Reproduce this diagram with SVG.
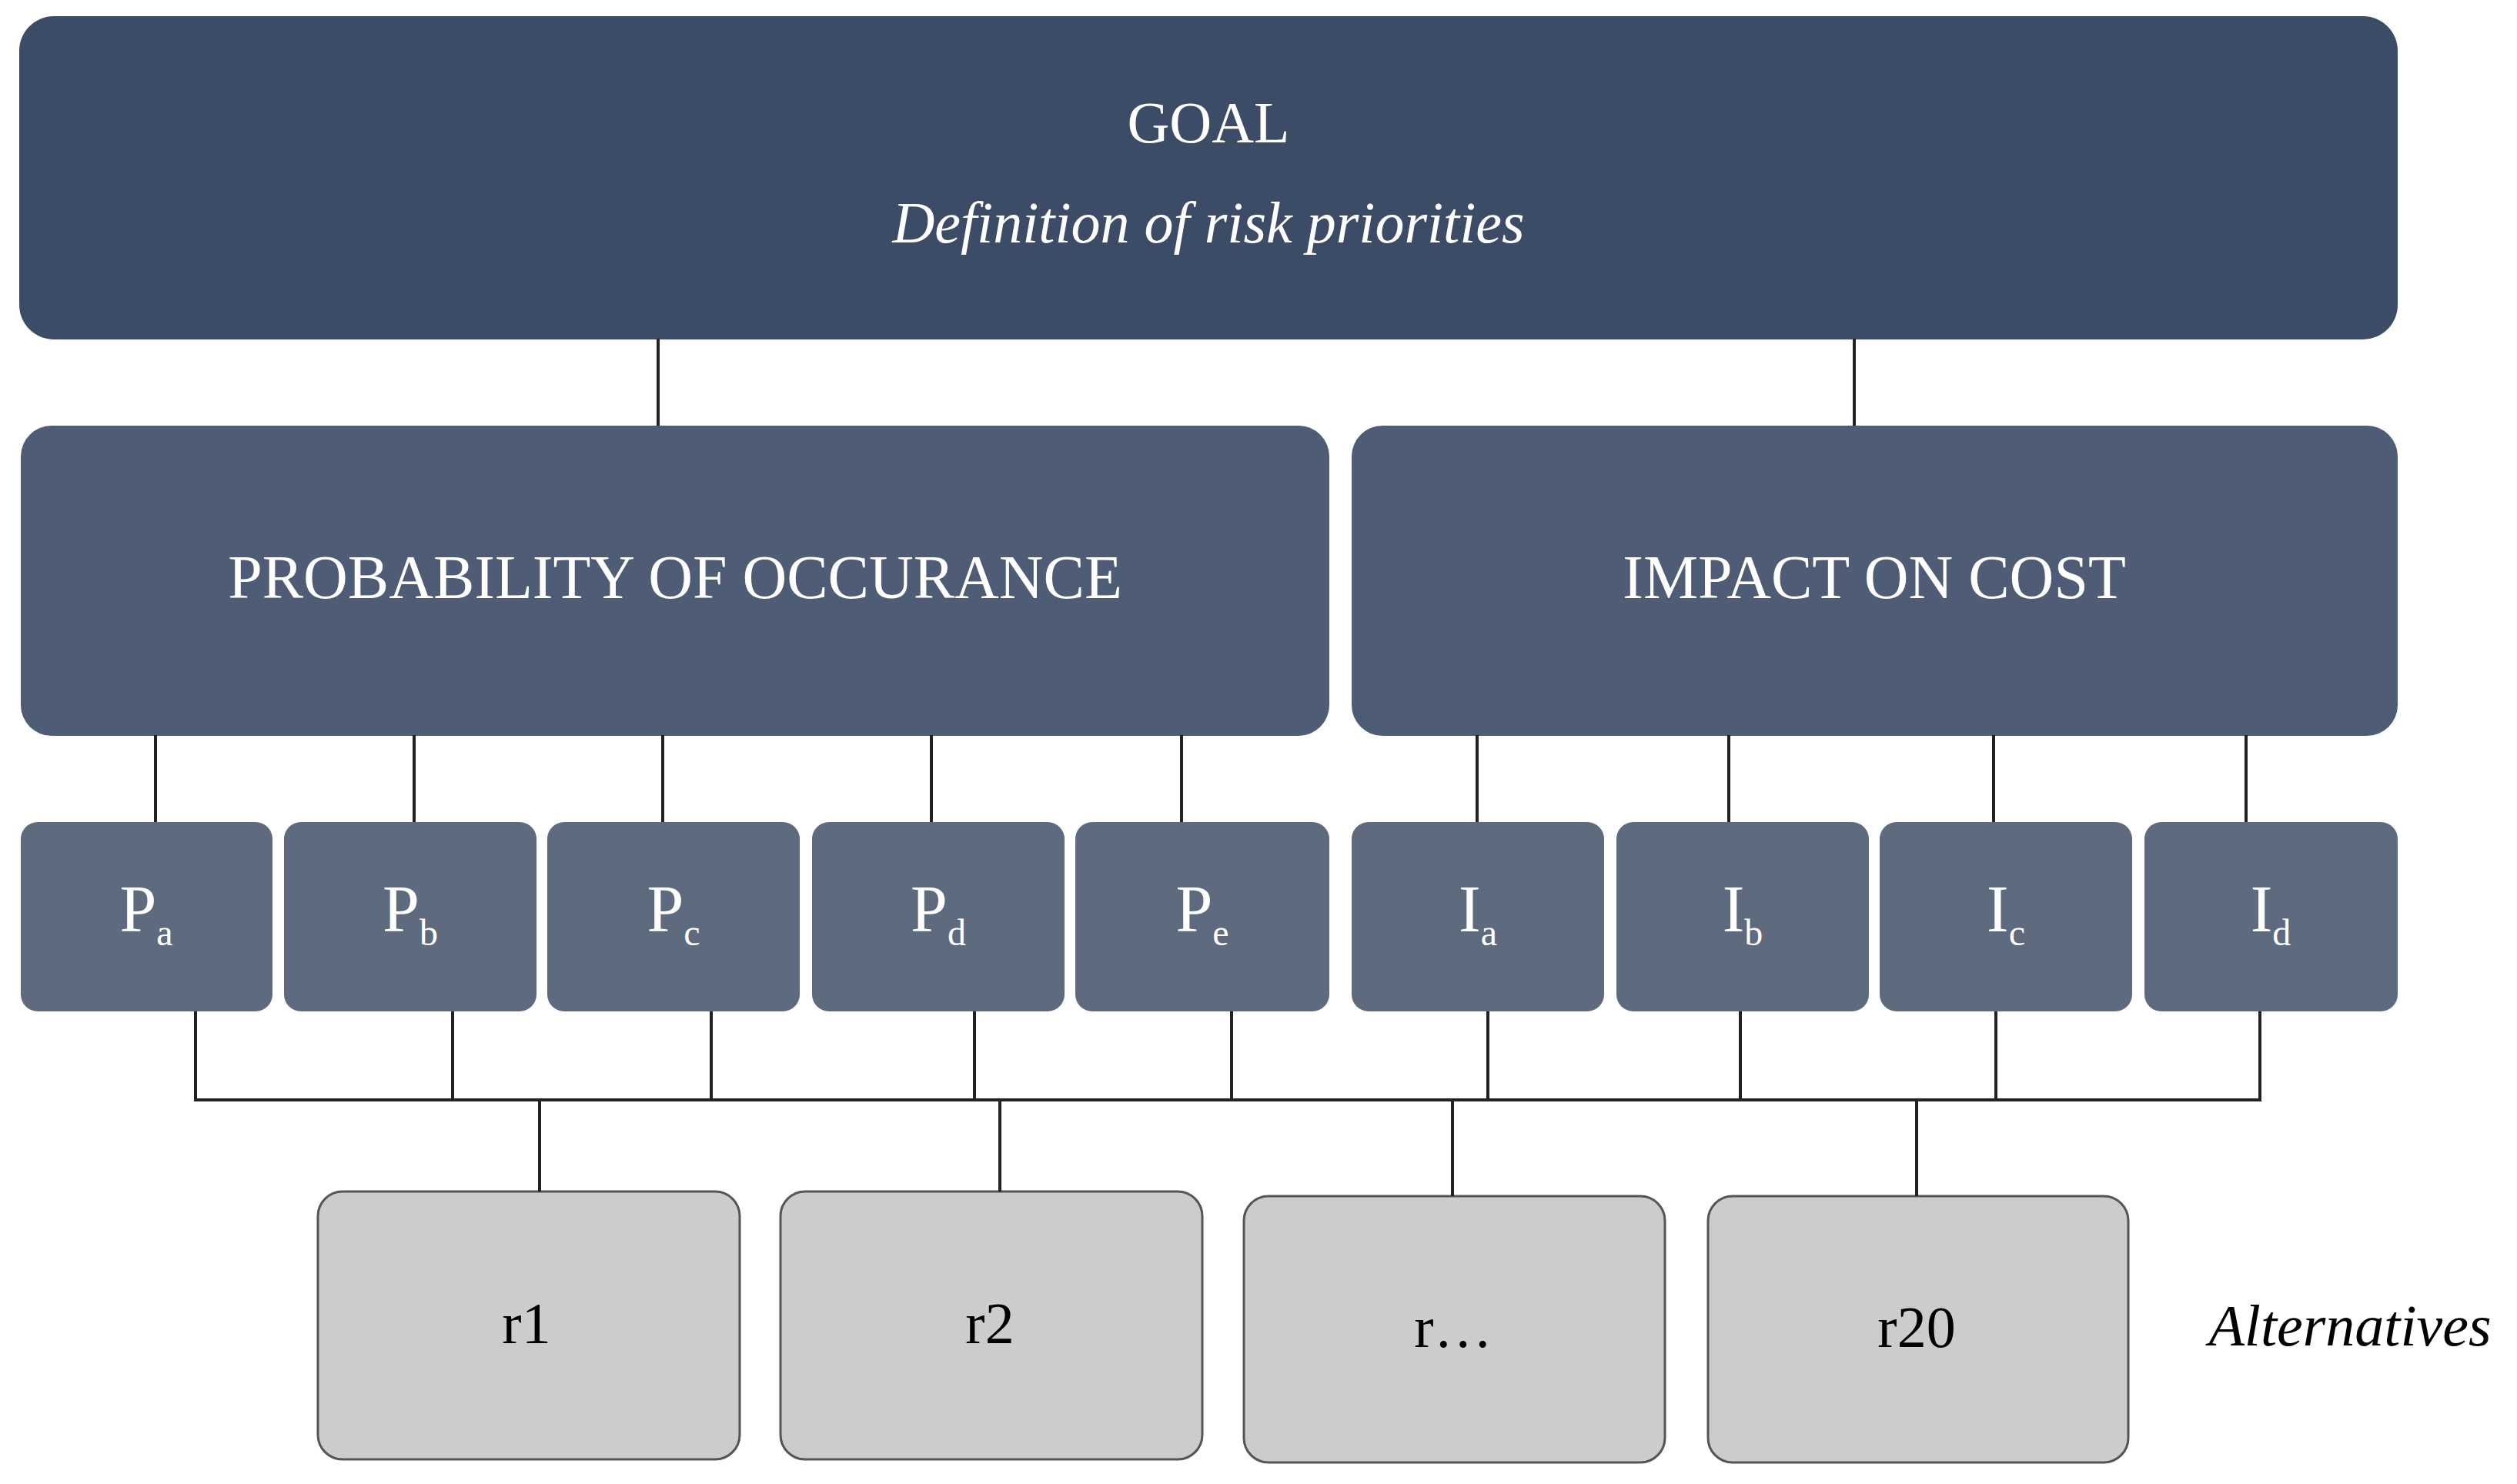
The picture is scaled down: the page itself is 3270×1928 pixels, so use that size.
<svg xmlns="http://www.w3.org/2000/svg" width="3270" height="1928" viewBox="0 0 3270 1928">
<style>
text{font-family:"Liberation Serif","DejaVu Serif",serif;text-anchor:middle}
.w{fill:#fff}
.s{fill:#5e6a7e}
.m{fill:#4e5d75}
.alt{fill:#cccccc;stroke:#555;stroke-width:3}
.c line{stroke:#222;stroke-width:4}
.sub{font-size:48px}
</style>
<rect width="3270" height="1928" fill="#fff"/>
<g id="goal"><rect x="25" y="21" width="3090" height="420" rx="45" fill="#3d4c66"/>
<text x="1570" y="185" class="w" font-size="76">GOAL</text>
<text x="1570" y="315" class="w" font-size="76" font-style="italic">Definition of risk priorities</text></g>
<g id="prob"><rect x="27" y="553" width="1700" height="403" rx="40" class="m"/>
<text x="877" y="777" class="w" font-size="80">PROBABILITY OF OCCURANCE</text></g>
<g id="impact"><rect x="1756" y="553" width="1359" height="403" rx="40" class="m"/>
<text x="2435" y="777" class="w" font-size="80">IMPACT ON COST</text></g>
<g id="Pa"><rect x="27" y="1068" width="327" height="246" rx="22" class="s"/><text x="190" y="1210" class="w" font-size="86">P<tspan class="sub" dy="18">a</tspan></text></g>
<g id="Pb"><rect x="369" y="1068" width="328" height="246" rx="22" class="s"/><text x="533" y="1210" class="w" font-size="86">P<tspan class="sub" dy="18">b</tspan></text></g>
<g id="Pc"><rect x="711" y="1068" width="328" height="246" rx="22" class="s"/><text x="875" y="1210" class="w" font-size="86">P<tspan class="sub" dy="18">c</tspan></text></g>
<g id="Pd"><rect x="1055" y="1068" width="328" height="246" rx="22" class="s"/><text x="1219" y="1210" class="w" font-size="86">P<tspan class="sub" dy="18">d</tspan></text></g>
<g id="Pe"><rect x="1397" y="1068" width="330" height="246" rx="22" class="s"/><text x="1562" y="1210" class="w" font-size="86">P<tspan class="sub" dy="18">e</tspan></text></g>
<g id="Ia"><rect x="1756" y="1068" width="328" height="246" rx="22" class="s"/><text x="1920" y="1210" class="w" font-size="86">I<tspan class="sub" dy="18">a</tspan></text></g>
<g id="Ib"><rect x="2100" y="1068" width="328" height="246" rx="22" class="s"/><text x="2264" y="1210" class="w" font-size="86">I<tspan class="sub" dy="18">b</tspan></text></g>
<g id="Ic"><rect x="2442" y="1068" width="328" height="246" rx="22" class="s"/><text x="2606" y="1210" class="w" font-size="86">I<tspan class="sub" dy="18">c</tspan></text></g>
<g id="Id"><rect x="2786" y="1068" width="329" height="246" rx="22" class="s"/><text x="2950" y="1210" class="w" font-size="86">I<tspan class="sub" dy="18">d</tspan></text></g>
<g id="r1"><rect x="413" y="1548" width="548" height="348" rx="32" class="alt"/><text x="684" y="1745" font-size="76">r1</text></g>
<g id="r2"><rect x="1014" y="1548" width="548" height="348" rx="32" class="alt"/><text x="1286" y="1745" font-size="76">r2</text></g>
<g id="r3"><rect x="1616" y="1554" width="547" height="346" rx="32" class="alt"/><text x="1888" y="1750" font-size="76">r…</text></g>
<g id="r20"><rect x="2219" y="1554" width="546" height="346" rx="32" class="alt"/><text x="2490" y="1750" font-size="76">r20</text></g>
<g id="label"><text x="3053" y="1748" font-size="76" font-style="italic">Alternatives</text></g>
<g class="c" id="connectors">
<line x1="855" y1="440" x2="855" y2="553"/><line x1="2409" y1="440" x2="2409" y2="553"/>
<line x1="202" y1="955" x2="202" y2="1068"/><line x1="538" y1="955" x2="538" y2="1068"/><line x1="861" y1="955" x2="861" y2="1068"/><line x1="1210" y1="955" x2="1210" y2="1068"/><line x1="1535" y1="955" x2="1535" y2="1068"/>
<line x1="1919" y1="955" x2="1919" y2="1068"/><line x1="2246" y1="955" x2="2246" y2="1068"/><line x1="2590" y1="955" x2="2590" y2="1068"/><line x1="2918" y1="955" x2="2918" y2="1068"/>
<line x1="254" y1="1314" x2="254" y2="1429"/><line x1="588" y1="1314" x2="588" y2="1429"/><line x1="924" y1="1314" x2="924" y2="1429"/><line x1="1266" y1="1314" x2="1266" y2="1429"/><line x1="1600" y1="1314" x2="1600" y2="1429"/>
<line x1="1933" y1="1314" x2="1933" y2="1429"/><line x1="2261" y1="1314" x2="2261" y2="1429"/><line x1="2593" y1="1314" x2="2593" y2="1429"/><line x1="2936" y1="1314" x2="2936" y2="1429"/>
<line x1="252" y1="1429" x2="2938" y2="1429"/>
<line x1="701" y1="1429" x2="701" y2="1548"/><line x1="1299" y1="1429" x2="1299" y2="1548"/><line x1="1887" y1="1429" x2="1887" y2="1554"/><line x1="2490" y1="1429" x2="2490" y2="1554"/>
</g>
</svg>
